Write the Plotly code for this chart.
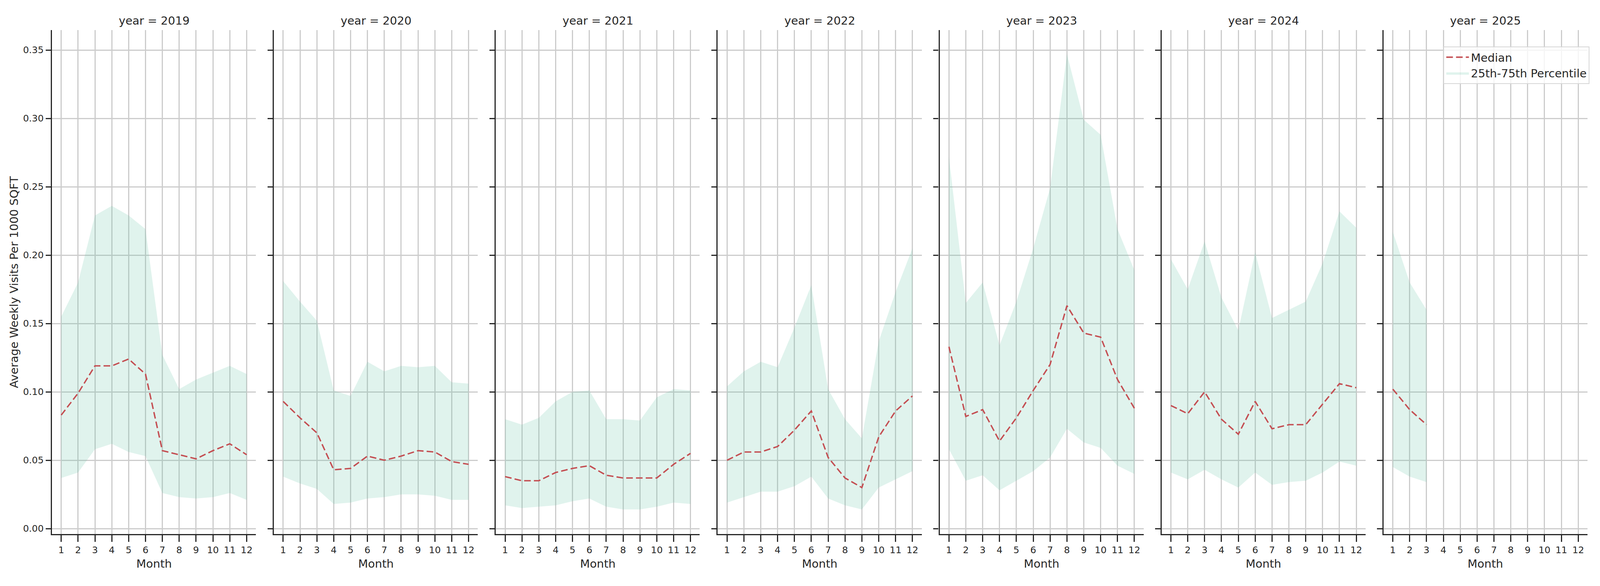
import plotly.graph_objects as go
from plotly.subplots import make_subplots

#%% data: monthly median and 25th / 75th percentile per year
years = [2019, 2020, 2021, 2022, 2023, 2024, 2025]
months = list(range(1, 13))
month_ticks = [str(m) for m in months]
y_ticks = [0.00, 0.05, 0.10, 0.15, 0.20, 0.25, 0.30, 0.35]

median_2019 = [0.083, 0.099, 0.119, 0.119, 0.124, 0.113, 0.057, 0.054, 0.051, 0.057, 0.062, 0.054]
q75_2019 = [0.155, 0.180, 0.229, 0.236, 0.229, 0.219, 0.127, 0.102, 0.109, 0.114, 0.119, 0.113]
q25_2019 = [0.037, 0.041, 0.058, 0.062, 0.056, 0.053, 0.026, 0.023, 0.022, 0.023, 0.026, 0.021]

median_2020 = [0.093, 0.081, 0.070, 0.043, 0.044, 0.053, 0.050, 0.053, 0.057, 0.056, 0.049, 0.047]
q75_2020 = [0.181, 0.166, 0.152, 0.101, 0.097, 0.122, 0.115, 0.119, 0.118, 0.119, 0.107, 0.106]
q25_2020 = [0.038, 0.033, 0.029, 0.018, 0.019, 0.022, 0.023, 0.025, 0.025, 0.024, 0.021, 0.021]

median_2021 = [0.038, 0.035, 0.035, 0.041, 0.044, 0.046, 0.039, 0.037, 0.037, 0.037, 0.047, 0.055]
q75_2021 = [0.080, 0.076, 0.081, 0.093, 0.100, 0.101, 0.080, 0.080, 0.079, 0.096, 0.102, 0.101]
q25_2021 = [0.017, 0.015, 0.016, 0.017, 0.020, 0.022, 0.016, 0.014, 0.014, 0.016, 0.019, 0.018]

median_2022 = [0.050, 0.056, 0.056, 0.060, 0.072, 0.086, 0.052, 0.037, 0.030, 0.067, 0.086, 0.097]
q75_2022 = [0.104, 0.115, 0.122, 0.118, 0.147, 0.178, 0.102, 0.080, 0.066, 0.137, 0.173, 0.205]
q25_2022 = [0.019, 0.023, 0.027, 0.027, 0.031, 0.038, 0.022, 0.017, 0.014, 0.030, 0.036, 0.042]

median_2023 = [0.133, 0.082, 0.087, 0.064, 0.081, 0.101, 0.120, 0.163, 0.143, 0.140, 0.109, 0.088]
q75_2023 = [0.272, 0.165, 0.180, 0.134, 0.166, 0.205, 0.249, 0.347, 0.299, 0.288, 0.219, 0.189]
q25_2023 = [0.058, 0.035, 0.039, 0.028, 0.035, 0.042, 0.052, 0.073, 0.063, 0.059, 0.046, 0.040]

median_2024 = [0.090, 0.084, 0.100, 0.080, 0.069, 0.093, 0.073, 0.076, 0.076, 0.091, 0.106, 0.103]
q75_2024 = [0.197, 0.175, 0.210, 0.169, 0.145, 0.202, 0.154, 0.160, 0.166, 0.194, 0.232, 0.220]
q25_2024 = [0.041, 0.036, 0.043, 0.036, 0.030, 0.041, 0.032, 0.034, 0.035, 0.041, 0.049, 0.046]

median_2025 = [0.102, 0.087, 0.076]
q75_2025 = [0.217, 0.180, 0.160]
q25_2025 = [0.045, 0.038, 0.034]

medians = [median_2019, median_2020, median_2021, median_2022, median_2023, median_2024, median_2025]
q75s = [q75_2019, q75_2020, q75_2021, q75_2022, q75_2023, q75_2024, q75_2025]
q25s = [q25_2019, q25_2020, q25_2021, q25_2022, q25_2023, q25_2024, q25_2025]

#%% style
# the browser viewport tops out at 4096x1500, so horizontal measures from the
# 5250 px wide reference are squeezed by SX; vertical ones are kept as measured
SX = 4096 / 5250
F = 0.88   # text scale, between the two directions
FONT = "DejaVu Sans"
INK = "#262626"
GRID = "#cccccc"
RED = "#c44e52"
BAND = "rgba(102,194,165,0.2)"

W, H = 4096, 1500
ML, MR, MT, MB = 171 * SX, 41 * SX, 77, 133
plot_w = W - ML - MR
plot_h = H - MT - MB


def py(px):
    """reference y pixel -> paper y"""
    return (H - MB - px) / plot_h


tick_font = dict(family=FONT, size=27 * F, color=INK)
text_font = dict(family=FONT, size=33 * F, color=INK)
axis_style = dict(showgrid=True, gridcolor=GRID, gridwidth=2.6, zeroline=False,
                  showline=True, linecolor=INK, linewidth=3.3,
                  ticks="outside", tickwidth=3.3, tickcolor=INK, tickfont=tick_font)

fig = make_subplots(rows=1, cols=len(years), shared_yaxes=True,
                    horizontal_spacing=59 * SX / plot_w)

for i, yr in enumerate(years):
    col = i + 1
    x = months[:len(medians[i])]
    first = i == 0
    fig.add_trace(go.Scatter(x=x, y=q25s[i], mode="lines", line=dict(width=0),
                             showlegend=False, hoverinfo="skip"), row=1, col=col)
    fig.add_trace(go.Scatter(x=x, y=q75s[i], mode="lines", line=dict(width=0),
                             fill="tonexty", fillcolor=BAND,
                             name="25th-75th Percentile", legendrank=2,
                             showlegend=first), row=1, col=col)
    fig.add_trace(go.Scatter(x=x, y=medians[i], mode="lines",
                             line=dict(color=RED, width=3.6, dash="17px,8px"),
                             name="Median", legendrank=1,
                             showlegend=first), row=1, col=col)

    fig.update_xaxes(range=[0.45, 12.55], tickvals=months, ticktext=month_ticks,
                     ticklen=17, row=1, col=col, **axis_style)
    fig.update_yaxes(range=[-0.004, 0.3646], tickvals=y_ticks, tickformat=".2f",
                     ticklen=17 * SX, showticklabels=first, row=1, col=col, **axis_style)

    xa = fig.layout["xaxis" if first else "xaxis%d" % col]
    xc = (xa.domain[0] + xa.domain[1]) / 2
    fig.add_annotation(text="year = %d" % yr, xref="paper", yref="paper",
                       x=xc, y=py(53), xanchor="center", yanchor="middle",
                       showarrow=False, font=text_font)
    fig.add_annotation(text="Month", xref="paper", yref="paper",
                       x=xc, y=py(1443), xanchor="center", yanchor="middle",
                       showarrow=False, font=text_font)

fig.add_annotation(text="Average Weekly Visits Per 1000 SQFT", xref="paper", yref="paper",
                   x=-(ML - 36) / plot_w, y=0.5, textangle=-90,
                   xanchor="center", yanchor="middle", showarrow=False, font=text_font)

fig.update_layout(
    width=W, height=H,
    margin=dict(l=ML, r=MR, t=MT, b=MB),
    paper_bgcolor="white", plot_bgcolor="white",
    font=dict(family=FONT, color=INK),
    legend=dict(x=(5216 - 171) * SX / plot_w, y=py(119), xanchor="right", yanchor="top",
                traceorder="normal",
                bgcolor="rgba(255,255,255,0.8)", bordercolor="#d6d6d6", borderwidth=2,
                font=text_font, itemwidth=58),
)

# drop the page's default 8px body margin so the figure sits flush in the window
fig.write_html("out.html", config={"displayModeBar": False},
               post_script="document.body.style.margin = '0';")
